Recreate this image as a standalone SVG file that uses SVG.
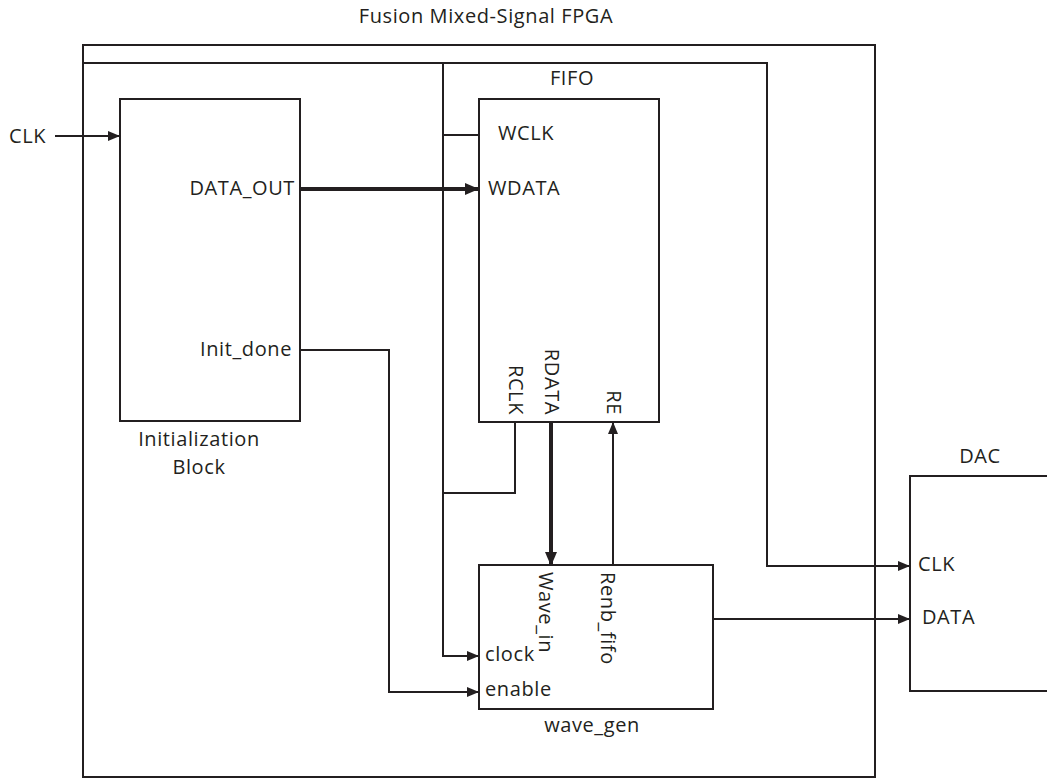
<svg xmlns="http://www.w3.org/2000/svg" width="1047" height="780" viewBox="0 0 1047 780">
<style>
text{font-family:"Open Sans","Noto Sans","Liberation Sans",sans-serif;font-size:20px;letter-spacing:0.6px;fill:#231f20}
.box{fill:#fff;stroke:#231f20;stroke-width:2}
.w{fill:none;stroke:#231f20;stroke-width:2}
.t{fill:none;stroke:#231f20;stroke-width:4}
.m{text-anchor:middle}
.e{text-anchor:end}
</style>
<defs>
<marker id="a" markerUnits="userSpaceOnUse" markerWidth="14" markerHeight="12" refX="12" refY="5" orient="auto"><path d="M0,0 L12,5 L0,10 Z" fill="#231f20"/></marker>
<marker id="b" markerUnits="userSpaceOnUse" markerWidth="16" markerHeight="14" refX="14" refY="6" orient="auto"><path d="M0,0 L14,6 L0,12 Z" fill="#231f20"/></marker>
</defs>
<rect width="1047" height="780" fill="#fff"/>
<g id="fpga">
<rect class="box" x="83" y="45" width="792" height="732" fill="none"/>
<text class="m" x="486" y="23">Fusion Mixed-Signal FPGA</text>
</g>
<g id="init">
<rect class="box" x="120" y="99" width="180" height="322"/>
<text class="e" x="295" y="195">DATA_OUT</text>
<text class="e" x="292" y="356">Init_done</text>
<text class="m" x="199" y="446">Initialization</text>
<text class="m" x="199" y="474">Block</text>
</g>
<g id="fifo">
<rect class="box" x="479" y="99" width="180" height="323"/>
<text class="m" x="572" y="85">FIFO</text>
<text x="498" y="140">WCLK</text>
<text x="488" y="195">WDATA</text>
<text class="e" transform="translate(509,415) rotate(90)">RCLK</text>
<text class="e" transform="translate(545,415) rotate(90)">RDATA</text>
<text class="e" transform="translate(607,415) rotate(90)">RE</text>
</g>
<g id="wave_gen">
<rect class="box" x="479" y="565" width="234" height="144"/>
<text transform="translate(539,572) rotate(90)">Wave_in</text>
<text transform="translate(601,572) rotate(90)">Renb_fifo</text>
<text x="485" y="661">clock</text>
<text x="485" y="696">enable</text>
<text class="m" x="592" y="732">wave_gen</text>
</g>
<g id="dac">
<rect class="box" x="910" y="476" width="150" height="215"/>
<text class="m" x="980" y="463">DAC</text>
<text x="918" y="571">CLK</text>
<text x="922" y="624">DATA</text>
</g>
<g id="ext_clk">
<text x="9" y="143">CLK</text>
</g>
<g id="connectors">
<path class="w" d="M55,136 H120" marker-end="url(#a)"/>
<path class="w" d="M83,63 H767 V566 H910" marker-end="url(#a)"/>
<path class="w" d="M443,63 V656 H479" marker-end="url(#a)"/>
<path class="w" d="M443,135 H479"/>
<path class="t" d="M300,189 H479" marker-end="url(#b)"/>
<path class="w" d="M300,350 H389 V692 H479" marker-end="url(#a)"/>
<path class="w" d="M515,422 V493 H443"/>
<path class="t" d="M551,422 V566" marker-end="url(#b)"/>
<path class="w" d="M613,565 V422" marker-end="url(#a)"/>
<path class="w" d="M713,619 H910" marker-end="url(#a)"/>
</g>
</svg>
